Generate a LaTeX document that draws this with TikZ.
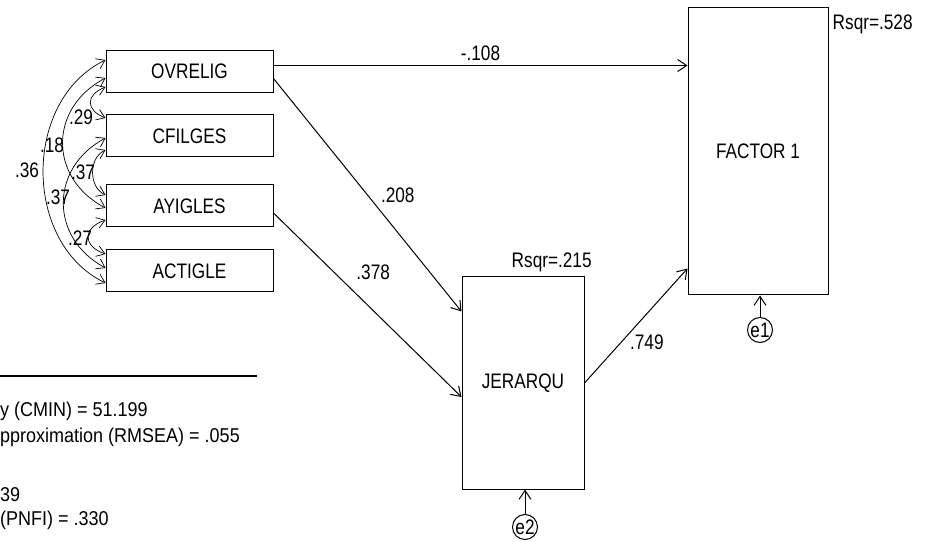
\documentclass[tikz,border=0pt]{standalone}
\usepackage{fontspec}
\setmainfont{Liberation Sans}[FakeStretch=0.82]
\newfontfamily\fitfont{Liberation Sans}[FakeStretch=0.9]
\usetikzlibrary{arrows.meta,positioning}
\tikzset{
  var/.style={draw, line width=1pt, minimum width=167pt, minimum height=42pt, inner sep=0pt},
  endo/.style={draw, line width=1pt, inner sep=0pt},
  err/.style={draw, circle, line width=1pt, minimum size=25pt, inner sep=0pt},
  path/.style={line width=1pt, -{Straight Barb[length=9pt,width=12pt]}},
  cov/.style={line width=0.7pt, {Straight Barb[length=8pt,width=11pt]}-{Straight Barb[length=8pt,width=11pt]}},
  coef/.style={inner sep=1pt},
  corr/.style={inner sep=0pt},
}
\begin{document}
\begin{tikzpicture}[x=1pt,y=1pt,font=\fontsize{21}{25}\selectfont]
  \useasboundingbox (0,0) rectangle (928,541);
  % exogenous variables
  \node[var] (ovrelig) at (189.5,469.5) {OVRELIG};
  \node[var] (cfilges) at (189.5,405) {CFILGES};
  \node[var] (ayigles) at (189.5,335) {AYIGLES};
  \node[var] (actigle) at (189.5,270) {ACTIGLE};
  % endogenous variables
  \node[endo, minimum width=140pt, minimum height=287pt] (factor) at (758,389.5) {FACTOR 1};
  \node[endo, minimum width=122pt, minimum height=212pt] (jerarqu) at (523,158) {JERARQU};
  \node[anchor=north west, inner sep=0pt] (rsqfac) at ([xshift=4pt,yshift=-7pt]factor.north east) {Rsqr=.528};
  \node[anchor=base west, inner sep=0pt] (rsqjer) at ([xshift=50pt,yshift=9pt]jerarqu.north west) {Rsqr=.215};
  \node[err] (e1) at (760,211) {e1};
  \node[err] (e2) at (525,14) {e2};
  \draw[path] (e1) -- (e1 |- factor.south);
  \draw[path] (e2) -- (e2 |- jerarqu.south);
  % paths
  \draw[path] ([yshift=6pt]ovrelig.east) -- ([yshift=6pt]ovrelig.east -| factor.west)
     node[coef, midway, above=3pt] (p108) {-.108};
  \draw[path] ([yshift=-7pt]ovrelig.east) -- ([yshift=-35pt]jerarqu.north west)
     node[coef, pos=.5, right=12pt] (p208) {.208};
  \draw[path] ([yshift=-7pt]ayigles.east) -- ([yshift=-14pt]jerarqu.west)
     node[coef, pos=.38, above right=2pt and 10pt] (p378) {.378};
  \draw[path] (jerarqu.east) -- ([yshift=27pt]factor.south west)
     node[coef, pos=.36, right=7pt] (p749) {.749};
  % covariances
  \draw[cov] ([yshift=11.5pt]ovrelig.west) .. controls +(-83,-40) and +(-83,40) .. ([yshift=-12pt]actigle.west);
  \draw[cov] ([yshift=-6.5pt]ovrelig.west) .. controls +(-57,-30) and +(-57,30) .. ([yshift=-2pt]ayigles.west);
  \draw[cov] ([yshift=-15.5pt]ovrelig.west) .. controls +(-20,-8) and +(-20,8) .. ([yshift=18pt]cfilges.west);
  \draw[cov] ([yshift=-14pt]cfilges.west) .. controls +(-17,-8) and +(-17,8) .. ([yshift=11pt]ayigles.west);
  \draw[cov] ([yshift=-2pt]cfilges.west) .. controls +(-56,-30) and +(-56,30) .. ([yshift=3pt]actigle.west);
  \draw[cov] ([yshift=-14pt]ayigles.west) .. controls +(-23,-8) and +(-23,8) .. ([yshift=17pt]actigle.west);
  \node[corr] (c36) at (27,371) {.36};
  \node[corr] (c18) at (52,396) {.18};
  \node[corr] (c29) at (81,424) {.29};
  \node[corr] (c37a) at (83,369) {.37};
  \node[corr] (c37b) at (58,344) {.37};
  \node[corr] (c27) at (80,303) {.27};
  % fit indices
  \draw[line width=1.2pt] (0,165) -- (257,165);
  \node[anchor=west, inner sep=0pt, font=\fitfont\fontsize{20}{24}\selectfont] (fit1) at (0,130) {y (CMIN) = 51.199};
  \node[anchor=west, inner sep=0pt, font=\fitfont\fontsize{20}{24}\selectfont] (fit2) at (0,104) {pproximation (RMSEA) = .055};
  \node[anchor=west, inner sep=0pt, font=\fitfont\fontsize{20}{24}\selectfont] (fit3) at (0,46) {39};
  \node[anchor=west, inner sep=0pt, font=\fitfont\fontsize{20}{24}\selectfont] (fit4) at (0,21) {(PNFI) = .330};
\end{tikzpicture}
\end{document}
